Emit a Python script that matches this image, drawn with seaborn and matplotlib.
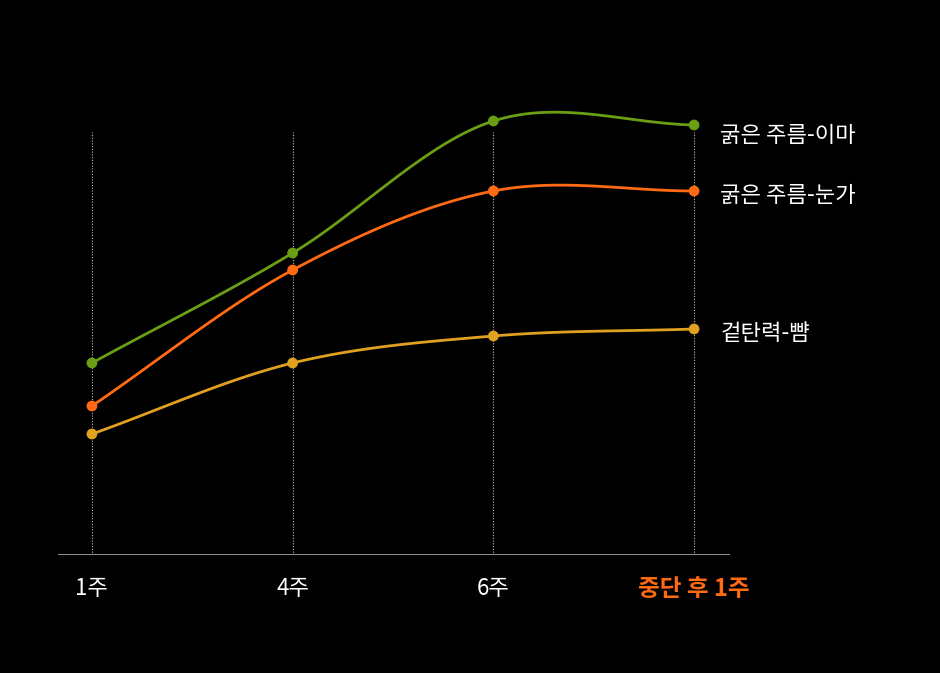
import numpy as np
import matplotlib.pyplot as plt
import seaborn as sns

weeks = ['1주', '4주', '6주', '중단 후 1주']
series_names = ['굵은 주름-이마', '굵은 주름-눈가', '겉탄력-뺨']
forehead = [192, 302, 434, 430]
eye = [149, 285, 364, 364]
cheek = [121, 192, 219, 226]
colors = ['#6a9e14', '#ff6a13', '#e0a020']
label_offset = [-10, -5, -4]

sns.set_style('dark', {'axes.facecolor': 'black', 'figure.facecolor': 'black'})
plt.rcParams['font.family'] = 'Noto Sans CJK KR'

def smooth(xs, ys, n=40):
    # catmull-rom for the curve only, markers use the raw values
    xs = np.asarray(xs, float); ys = np.asarray(ys, float)
    px = np.concatenate([[2*xs[0]-xs[1]], xs, [2*xs[-1]-xs[-2]]])
    py = np.concatenate([[2*ys[0]-ys[1]], ys, [2*ys[-1]-ys[-2]]])
    ox, oy = [], []
    for i in range(1, len(px)-2):
        t = np.linspace(0, 1, n)
        for p, o in ((px, ox), (py, oy)):
            p0, p1, p2, p3 = p[i-1], p[i], p[i+1], p[i+2]
            o.extend(0.5*((2*p1) + (-p0+p2)*t + (2*p0-5*p1+4*p2-p3)*t**2 + (-p0+3*p1-3*p2+p3)*t**3))
    return ox, oy

fig = plt.figure(figsize=(9.4, 6.73), dpi=100)
ax = fig.add_axes([58/940, 118/673, 672/940, 555/673])
x = np.arange(len(weeks))

for xi in x:
    ax.plot([xi, xi], [0, 423], color='#bbbbbb', lw=0.8, ls=(0, (1, 1.5)), zorder=1)

for name, vals, c, off in zip(series_names, [forehead, eye, cheek], colors, label_offset):
    sx, sy = smooth(x, vals)
    sns.lineplot(x=sx, y=sy, color=c, lw=2, ax=ax, sort=False, zorder=3)
    sns.scatterplot(x=x, y=vals, color=c, s=60, edgecolor='none', ax=ax, zorder=4)
    ax.text(3.13, vals[-1] + off, name, color='white', fontsize=16, fontweight='medium',
            va='center', ha='left', clip_on=False)

ax.set_xlim(-0.169, 3.179)
ax.set_ylim(0, 555)
ax.axhline(0, color='#aaaaaa', lw=1.2)
for s in ax.spines.values():
    s.set_visible(False)
ax.set_yticks([])
ax.set_xticks(x)
ax.set_xticklabels(weeks, fontsize=16, color='white', fontweight='medium')
ax.tick_params(axis='x', length=0, pad=16)
lab = ax.get_xticklabels()[-1]
lab.set_color('#ff6a13'); lab.set_fontweight('bold'); lab.set_fontsize(17)
ax.grid(False)

fig.savefig('out.png', dpi=100, facecolor='black')
